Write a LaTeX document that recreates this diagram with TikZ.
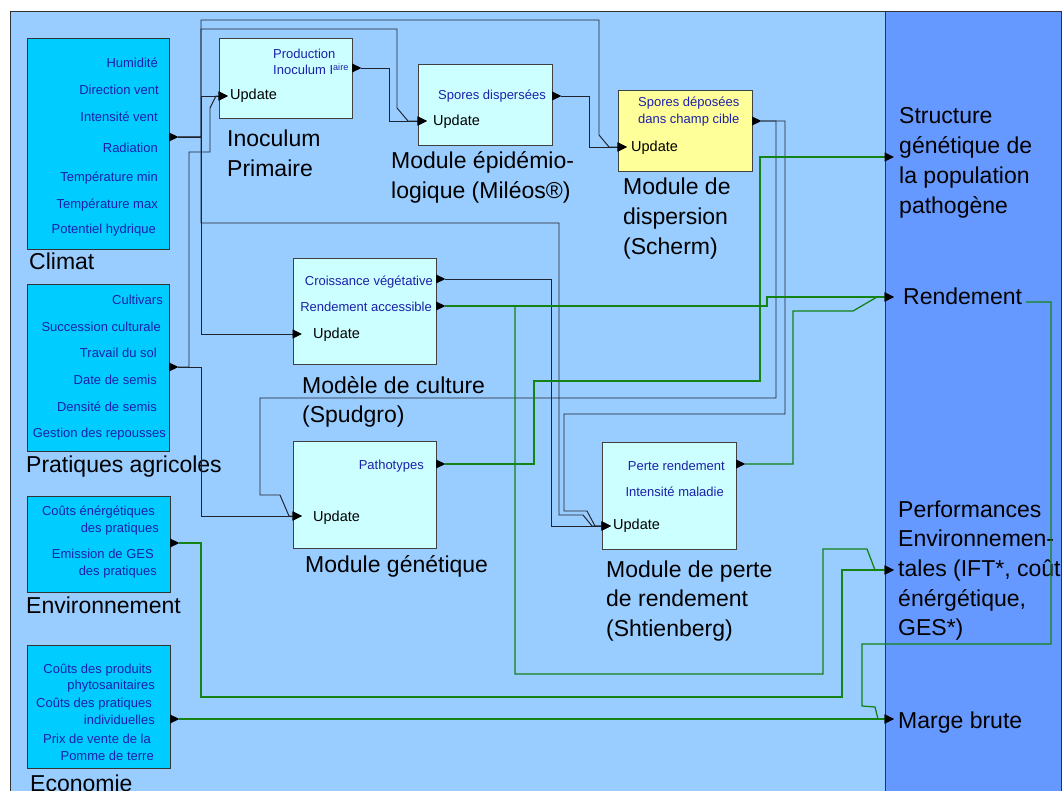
\documentclass[tikz,border=0pt]{standalone}
\usepackage{fontspec}
\setmainfont{Liberation Sans}
\usetikzlibrary{arrows.meta}
\definecolor{panelA}{RGB}{153,204,255}
\definecolor{panelB}{RGB}{102,153,255}
\definecolor{cyanbox}{RGB}{0,204,255}
\definecolor{modfill}{RGB}{204,255,255}
\definecolor{yelfill}{RGB}{255,255,153}
\definecolor{txtblue}{RGB}{28,32,170}
\definecolor{lnblack}{RGB}{30,35,45}
\definecolor{lngreen}{RGB}{20,130,20}
\newcommand{\mylines}[1]{\begin{tabular}[t]{@{}l@{}}#1\end{tabular}}
\begin{document}
\begin{tikzpicture}[x=1pt,y=-1pt,
  inbox/.style={draw=black!80, line width=1pt, fill=cyanbox, anchor=north west, inner sep=0pt},
  modbox/.style={draw=black!75, line width=1pt, fill=modfill, anchor=north west, inner sep=0pt},
  bt/.style={text=txtblue, font=\fontsize{13}{15}\selectfont, inner sep=0pt},
  upd/.style={font=\fontsize{14.5}{16}\selectfont, inner sep=0pt, anchor=base west},
  big/.style={font=\fontsize{23}{29.7}\selectfont, inner sep=0pt, anchor=base west},
  blk/.style={draw=lnblack, line width=0.95pt},
  grn/.style={draw=lngreen, line width=1.25pt},
  inarr/.style={-{Triangle[length=9.5pt,width=9pt,color=black]}},
  outport/.pic={\fill[black] (0,-4.5) -- (9.5,0) -- (0,4.5) -- cycle; \coordinate (-tip) at (9,0);},
]
\useasboundingbox (0,0) rectangle (1064,791);
\clip (0,0) rectangle (1064,791);
\fill[white] (0,0) rectangle (1064,791);
\draw[fill=panelA, draw=black!80, line width=0.8pt] (10,11) rectangle (885,800);
\draw[fill=panelB, draw=black!80, line width=0.8pt] (885,11) rectangle (1061,800);

% ---------- input boxes ----------
\node[inbox, minimum width=142pt, minimum height=211pt] (climat) at (27,38) {};
\node[inbox, minimum width=142pt, minimum height=167pt] (prat) at (27,284) {};
\node[inbox, minimum width=143pt, minimum height=96pt] (envi) at (27,496) {};
\node[inbox, minimum width=143pt, minimum height=123pt] (econ) at (27,645) {};

% ---------- modules ----------
\node[modbox, minimum width=133pt, minimum height=80pt] (ino) at (219,38) {};
\node[modbox, minimum width=134pt, minimum height=81pt] (mil) at (418,64) {};
\node[modbox, fill=yelfill, minimum width=134pt, minimum height=81pt] (sch) at (618,90) {};
\node[modbox, minimum width=143pt, minimum height=106pt] (spu) at (293,258) {};
\node[modbox, minimum width=143pt, minimum height=107pt] (gen) at (293,441) {};
\node[modbox, minimum width=134pt, minimum height=107pt] (per) at (602,442) {};

% ---------- blue texts ----------
\node[bt,anchor=base east] (c1) at (158,67.5) {Humidité};
\node[bt,anchor=base east] (c2) at (159,94.5) {Direction vent};
\node[bt,anchor=base east] (c3) at (158,121.5) {Intensité vent};
\node[bt,anchor=base east] (c4) at (158,153) {Radiation};
\node[bt,anchor=base east] (c5) at (158,182) {Température min};
\node[bt,anchor=base east] (c6) at (158,208.5) {Température max};
\node[bt,anchor=base east] (c7) at (156,234) {Potentiel hydrique};

\node[bt,anchor=base east] (p1) at (163,305) {Cultivars};
\node[bt,anchor=base east] (p2) at (161,331) {Succession culturale};
\node[bt,anchor=base east] (p3) at (157,357.5) {Travail du sol};
\node[bt,anchor=base east] (p4) at (157,384) {Date de semis};
\node[bt,anchor=base east] (p5) at (157,411) {Densité de semis};
\node[bt,anchor=base east] (p6) at (166,437) {Gestion des repousses};

\node[bt,anchor=base east] (e1) at (155,515) {Coûts énérgétiques};
\node[bt,anchor=base east] (e2) at (159,532) {des pratiques};
\node[bt,anchor=base east] (e3) at (154,558) {Emission de GES};
\node[bt,anchor=base east] (e4) at (157,575) {des pratiques};

\node[bt,anchor=base east] (k1) at (152,673) {Coûts des produits};
\node[bt,anchor=base east] (k2) at (155,689) {phytosanitaires};
\node[bt,anchor=base east] (k3) at (152,707) {Coûts des pratiques};
\node[bt,anchor=base east] (k4) at (155,724) {individuelles};
\node[bt,anchor=base east] (k5) at (151,743) {Prix de vente de la};
\node[bt,anchor=base east] (k6) at (154,760) {Pomme de terre};

\node[bt,anchor=base west] (i1) at (273,59) {Production};
\node[bt,anchor=base west] (i2) at (273,75) {Inoculum I\textsuperscript{aire}};
\node[bt,anchor=base east] (m1) at (546,100) {Spores dispersées};
\node[bt,anchor=base west] (s1) at (638,107) {Spores déposées};
\node[bt,anchor=base west] (s2) at (638,124) {dans champ cible};
\node[bt,anchor=base east] (u1) at (433,285) {Croissance végétative};
\node[bt,anchor=base east] (u2) at (432,311) {Rendement accessible};
\node[bt,anchor=base east] (g1) at (424,469) {Pathotypes};
\node[bt,anchor=base east] (r1) at (725,470) {Perte rendement};
\node[bt,anchor=base east] (r2) at (724,496) {Intensité maladie};

% ---------- Update labels ----------
\node[upd] (inoU) at (230,100) {Update};
\node[upd] (milU) at (433,126) {Update};
\node[upd] (schU) at (631,152) {Update};
\node[upd] (spuU) at (313,338) {Update};
\node[upd] (genU) at (313,521) {Update};
\node[upd] (perU) at (613,529) {Update};

% ---------- big labels ----------
\node[big] (lclim) at (29,270) {Climat};
\node[big] (lprat) at (26,472) {Pratiques agricoles};
\node[big] (lenv) at (26,613) {Environnement};
\node[big] (leco) at (30,791) {Economie};
\node[big] (lino) at (227,147) {\mylines{Inoculum\\Primaire}};
\node[big] (lmil) at (391,168.5) {\mylines{Module épidémio-\\logique (Miléos®)}};
\node[big] (lsch) at (623,195) {\mylines{Module de\\dispersion\\(Scherm)}};
\node[big] (lspu) at (302,393) {\mylines{Modèle de culture\\(Spudgro)}};
\node[big] (lgen) at (305,572) {Module génétique};
\node[big] (lper) at (606,577) {\mylines{Module de perte\\de rendement\\(Shtienberg)}};
\node[big] (ostr) at (899,124) {\mylines{Structure\\génétique de\\la population\\pathogène}};
\node[big] (orend) at (903,305) {Rendement};
\node[big] (operf) at (898,517) {\mylines{Performances\\Environnemen-\\tales (IFT*, coût\\énérgétique,\\GES*)}};
\node[big] (omarge) at (898,728) {Marge brute};

% ---------- ports ----------
\pic (clOut) at (169,137) {outport};
\pic (prOut) at (169,367) {outport};
\pic (envOut) at (170,543) {outport};
\pic (ecoOut) at (170,719) {outport};
\pic (inoOut) at (352,68) {outport};
\pic (milOut) at (552,96) {outport};
\pic (schOut) at (752,121) {outport};
\pic (spOutA) at (436,279) {outport};
\pic (spOutB) at (436,306) {outport};
\pic (genOut) at (436,464) {outport};
\pic (perOut) at (736,464) {outport};

\coordinate (inoIn) at (228,96);
\coordinate (milIn) at (427,121);
\coordinate (schIn) at (627,147);
\coordinate (spuIn) at (302,334);
\coordinate (genIn) at (302,516);
\coordinate (perIn) at (611,526);
\coordinate (strIn) at (894,157);
\coordinate (rendIn) at (894,297);
\coordinate (perfIn) at (894,570);
\coordinate (margeIn) at (894,719);
\coordinate (rendEnd) at (1026,302);

% ---------- black connectors ----------
\draw[blk,inarr] (clOut-tip) -| (201,96) -- (inoIn);
\draw[blk,inarr] (clOut-tip) -| (201,29) -- (397,29) -- (397,108) -- (408,121) -- (milIn);
\draw[blk,inarr] (clOut-tip) -| (201,20) -- (599,20) -- (599,135) -- (609,147) -- (schIn);
\draw[blk,inarr] (clOut-tip) -| (201,334) -- (spuIn);
\draw[blk,inarr] (clOut-tip) -| (201,223) -- (559,223) -- (559,515) -- (583,515) -- (592,526) -- (perIn);
\draw[blk,inarr] (prOut-tip) -- (189,367) -- (189,152) -- (210,152) -- (210,108) -- (216,96) -- (inoIn);
\draw[blk,inarr] (prOut-tip) -| (201,516) -- (genIn);
\draw[blk,inarr] (inoOut-tip) -| (389,121) -- (milIn);
\draw[blk,inarr] (milOut-tip) -| (589,147) -- (schIn);
\draw[blk,inarr] (schOut-tip) -| (776,398) -| (260,495) -- (280,495) -- (289,516) -- (genIn);
\draw[blk,inarr] (schOut-tip) -| (785,414) -| (564,511) -- (587,511) -- (595,526) -- (perIn);
\draw[blk,inarr] (spOutA-tip) -| (551,526) -- (perIn);

% ---------- green connectors ----------
\draw[grn,inarr] (spOutB-tip) -| (767,297) -- (rendIn);
\draw[grn,inarr] (spOutB-tip) -| (515,674) -| (823,549) -- (867,549) -- (875,570) -- (perfIn);
\draw[grn,inarr] (genOut-tip) -| (534,381) -| (760,157) -- (strIn);
\draw[grn,inarr] (perOut-tip) -| (793,311) -- (853,311) -- (877,297) -- (rendIn);
\draw[grn,inarr] (envOut-tip) -| (201,697) -| (842,570) -- (perfIn);
\draw[grn,inarr] (ecoOut-tip) -- (margeIn);
\draw[grn,inarr] (rendEnd) -| (1051,644) -| (862,706) -- (875,707) -- (878,719) -- (margeIn);
\end{tikzpicture}
\end{document}
